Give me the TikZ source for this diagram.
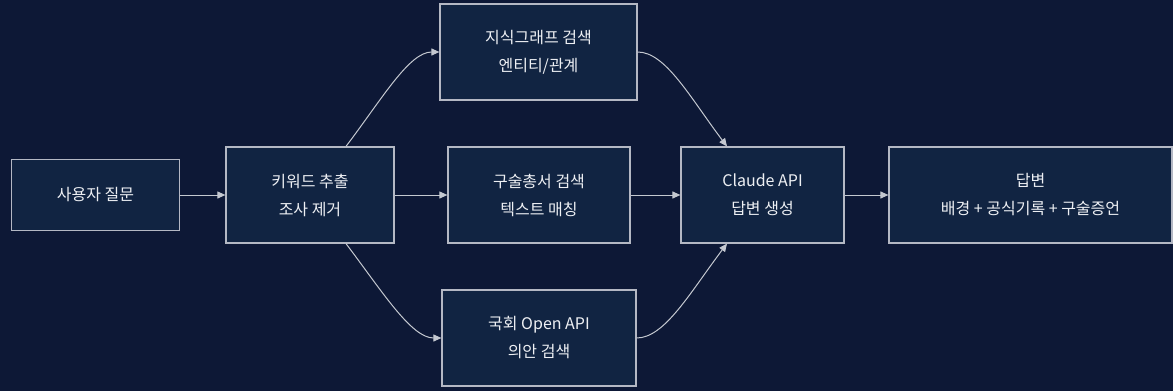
\documentclass[tikz,border=0pt]{standalone}
\usepackage{fontspec}
\setmainfont{Noto Sans CJK KR}
\usetikzlibrary{arrows.meta,calc}
\definecolor{bgc}{HTML}{0D1836}
\definecolor{boxfill}{HTML}{112442}
\definecolor{boxline}{HTML}{B4B8C4}
\definecolor{linec}{HTML}{C4C8D0}
\definecolor{txt}{HTML}{EEF0F4}
\tikzset{
  flowbox/.style={draw=boxline, line width=1.2pt, fill=boxfill, text=txt,
    align=center, inner sep=0pt, font=\fontsize{16}{28}\selectfont},
  conn/.style={draw=linec, line width=1pt, -{Triangle[length=8pt,width=7pt]}}
}
\begin{document}
\begin{tikzpicture}[x=1pt,y=-1pt]
\fill[bgc] (0,0) rectangle (1173,391);
\useasboundingbox (0,0) rectangle (1173,391);
\node[flowbox, minimum width=168pt, minimum height=71pt] (q) at (95.5,195) {사용자 질문};
\node[flowbox, minimum width=168pt, minimum height=96pt] (kw) at (310,195) {키워드 추출\\조사 제거};
\node[flowbox, minimum width=197pt, minimum height=96pt] (kg) at (538.5,52) {지식그래프 검색\\엔티티/관계};
\node[flowbox, minimum width=182pt, minimum height=96pt] (or) at (539,195) {구술총서 검색\\텍스트 매칭};
\node[flowbox, minimum width=194pt, minimum height=96pt] (na) at (539,338) {국회 Open API\\의안 검색};
\node[flowbox, minimum width=163pt, minimum height=96pt] (cl) at (762.5,195) {Claude API\\답변 생성};
\node[flowbox, minimum width=283pt, minimum height=96pt] (ans) at (1030.5,195) {답변\\배경 + 공식기록 + 구술증언};
\draw[conn] (q.east) -- (kw.west);
\draw[conn] (kw.east) -- (or.west);
\draw[conn] (or.east) -- (cl.west);
\draw[conn] (cl.east) -- (ans.west);
\draw[conn] ($(kw.north)+(36,0)$) .. controls +(37,-49) and +(-30,0) .. (kg.west);
\draw[conn] ($(kw.south)+(36,0)$) .. controls +(37,49) and +(-30,0) .. (na.west);
\draw[conn] (kg.east) .. controls +(28,0) and +(-37,-49) .. ($(cl.north)+(-35.5,0)$);
\draw[conn] (na.east) .. controls +(28,0) and +(-37,49) .. ($(cl.south)+(-35.5,0)$);
\end{tikzpicture}
\end{document}
